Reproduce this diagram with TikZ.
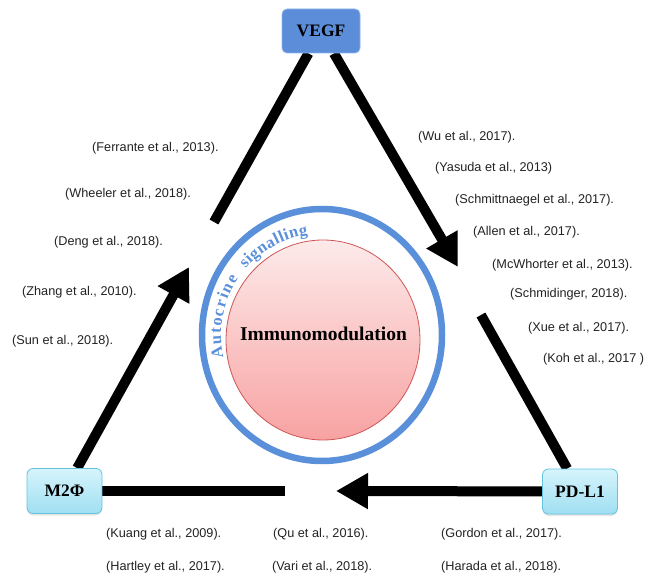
\documentclass[tikz,border=0pt]{standalone}
\usepackage{fontspec}
\setmainfont{Liberation Serif}
\newfontfamily\citefont{Liberation Sans}
\usetikzlibrary{arrows.meta,decorations.text,backgrounds,shadows,shapes.geometric}
\definecolor{vegfblue}{HTML}{5B8DD8}
\definecolor{vegfedge}{HTML}{8DB3EA}
\definecolor{cyantop}{HTML}{D6F4FC}
\definecolor{cyanbot}{HTML}{A0DFF2}
\definecolor{cyanedge}{HTML}{62C3DF}
\definecolor{ringblue}{HTML}{5A8FDA}
\definecolor{pinktop}{HTML}{FDEAEA}
\definecolor{pinkbot}{HTML}{F8A2A2}
\definecolor{pinkedge}{HTML}{CF5555}
\definecolor{citegray}{HTML}{222222}
\newcommand{\ringfont}{\bfseries\fontsize{16.5}{18}\selectfont}
\tikzset{
  boxlabel/.style={font=\bfseries\fontsize{17.5}{20}\selectfont, text=black},
  vegfbox/.style={boxlabel, rectangle, rounded corners=5pt, fill=vegfblue, draw=vegfedge, line width=0.8pt,
    minimum width=78pt, minimum height=44pt},
  cellbox/.style={boxlabel, rectangle, rounded corners=6pt, top color=cyantop, bottom color=cyanbot,
    draw=cyanedge, line width=0.8pt, minimum width=75pt, minimum height=45pt,
    drop shadow={shadow xshift=0pt, shadow yshift=-2pt, opacity=0.2}},
  arr/.style={line width=10pt, -{Triangle[width=34pt,length=32pt]}},
  seg/.style={line width=10pt},
  cite/.style={anchor=west, inner sep=0pt, font=\citefont\fontsize{12.7}{15}\selectfont, text=citegray}
}
\begin{document}
\begin{tikzpicture}[x=1pt,y=-1pt]
\useasboundingbox (0,0) rectangle (646,575);
% boxes
\node[vegfbox] (vegf) at (321,31) {VEGF};
\node[cellbox] (m2) at (64.5,491) {M2Φ};
\node[cellbox] (pdl1) at (580,491.5) {PD-L1};
% centre
\draw[ringblue, line width=6.5pt] (322,335) ellipse [x radius=120pt, y radius=126pt];
\node[ellipse, minimum width=194pt, minimum height=200pt, top color=pinktop, bottom color=pinkbot,
  draw=pinkedge, line width=0.8pt] (immuno) at (323,340) {};
\node[font=\bfseries\fontsize{19.5}{22}\selectfont] (immunotext) at (323.5,334) {Immunomodulation};
\coordinate (rc) at (322,335);
\path[decorate, decoration={text along path, text={|\ringfont|Autocrine}, text align={fit to path},
  text color=ringblue}]
  (rc) ++(193:101pt) arc[start angle=193, end angle=146, radius=101pt];
\path[decorate, decoration={text along path, text={|\ringfont|signalling}, text align={fit to path},
  text color=ringblue}]
  (rc) ++(139:101pt) arc[start angle=139, end angle=98, radius=101pt];
% arrow coordinates
\coordinate (t1) at (458,267);
\coordinate (g1) at (481,315);
\coordinate (t2) at (336,491);
\coordinate (g2) at (285,491);
\coordinate (t3) at (189,267);
\coordinate (g3) at (214,222);
\begin{scope}[on background layer]
\draw[arr] (vegf) -- (t1);
\draw[seg] (g1) -- (pdl1);
\draw[arr] (pdl1) -- (t2);
\draw[seg] (g2) -- (m2);
\draw[arr] (m2) -- (t3);
\draw[seg] (g3) -- (vegf);
\end{scope}
% citations left
\node[cite] (c1) at (92,148) {(Ferrante et al., 2013).};
\node[cite] (c2) at (65,194) {(Wheeler et al., 2018).};
\node[cite] (c3) at (54,242) {(Deng et al., 2018).};
\node[cite] (c4) at (22,292) {(Zhang et al., 2010).};
\node[cite] (c5) at (12,341) {(Sun et al., 2018).};
% citations right
\node[cite] (c6) at (418,137) {(Wu et al., 2017).};
\node[cite] (c7) at (435,168) {(Yasuda et al., 2013)};
\node[cite] (c8) at (455,200) {(Schmittnaegel et al., 2017).};
\node[cite] (c9) at (473,232) {(Allen et al., 2017).};
\node[cite] (c10) at (492,265) {(McWhorter et al., 2013).};
\node[cite] (c11) at (510,294) {(Schmidinger, 2018).};
\node[cite] (c12) at (528,328) {(Xue et al., 2017).};
\node[cite] (c13) at (543,359) {(Koh et al., 2017 )};
% citations bottom
\node[cite] (c14) at (106,534) {(Kuang et al., 2009).};
\node[cite] (c15) at (106,567) {(Hartley et al., 2017).};
\node[cite] (c16) at (273,534) {(Qu et al., 2016).};
\node[cite] (c17) at (272,567) {(Vari et al., 2018).};
\node[cite] (c18) at (441,534) {(Gordon et al., 2017).};
\node[cite] (c19) at (441,567) {(Harada et al., 2018).};
\end{tikzpicture}
\end{document}
